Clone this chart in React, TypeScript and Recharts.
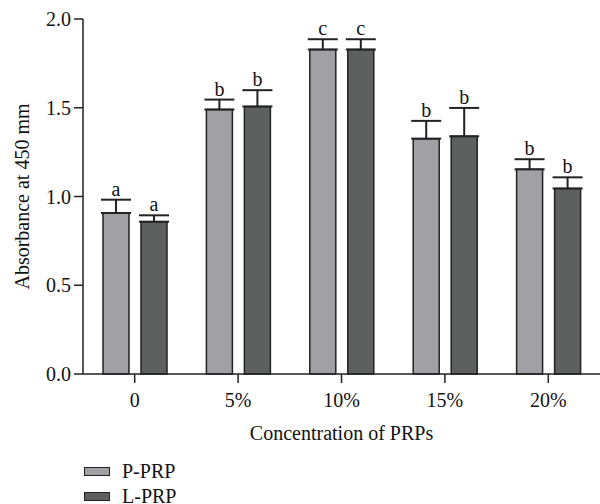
import React from "react";
import { BarChart, Bar, XAxis, YAxis, ErrorBar, LabelList, Legend } from "recharts";

const categories = ["0", "5%", "10%", "15%", "20%"];
const pPrp = [0.907, 1.49, 1.828, 1.326, 1.153];
const lPrp = [0.858, 1.507, 1.828, 1.339, 1.045];
const pErr = [0.075, 0.056, 0.058, 0.1, 0.057];
const lErr = [0.036, 0.092, 0.058, 0.16, 0.063];
const pLetters = ["a", "b", "c", "b", "b"];
const lLetters = ["a", "b", "c", "b", "b"];
const yTicks = [0, 0.5, 1.0, 1.5, 2.0];

const data = categories.map((c, i) => ({
  cat: c,
  p: pPrp[i],
  l: lPrp[i],
  pe: [0, pErr[i]],
  le: [0, lErr[i]],
}));

const FONT = "'Liberation Serif', 'DejaVu Serif', serif";
const LIGHT = "#a1a1a5";
const DARK = "#5e605f";
const EDGE = "#222222";
const FS = 20;

const makeLetter = (errs: number[], letters: string[]) => (props: any) => {
  const { x, y, width, height, value, index } = props;
  const pxPerUnit = height / value;
  const top = y - errs[index] * pxPerUnit;
  return (
    <text
      x={x + width / 2}
      y={top - 4}
      textAnchor="middle"
      fontFamily={FONT}
      fontSize={FS}
      fill="#111"
    >
      {letters[index]}
    </text>
  );
};

const legendItems = [
  { name: "P-PRP", color: LIGHT },
  { name: "L-PRP", color: DARK },
];

const renderLegend = () => (
  <div style={{ fontFamily: FONT, fontSize: FS, color: "#111" }}>
    {legendItems.map((it) => (
      <div key={it.name} style={{ display: "flex", alignItems: "center", height: 25 }}>
        <div
          style={{
            width: 24,
            height: 7,
            background: it.color,
            border: `1.5px solid ${EDGE}`,
            marginRight: 12,
          }}
        />
        <span>{it.name}</span>
      </div>
    ))}
  </div>
);

const YLabel = () => (
  <text
    x={22}
    y={196.5}
    transform="rotate(-90 22 196.5)"
    textAnchor="middle"
    dominantBaseline="central"
    fontFamily={FONT}
    fontSize={FS}
    fill="#111"
  >
    Absorbance at 450 mm
  </text>
);

export default function App() {
  return (
    <div style={{ position: "absolute", left: 0, top: 0, width: 600, height: 504 }}>
      <BarChart
        width={600}
        height={504}
        data={data}
        margin={{ top: 19, right: 0, left: 0, bottom: 70 }}
        barSize={26}
        barGap={12}
      >
        <XAxis
          dataKey="cat"
          tickSize={9}
          tickMargin={10}
          tickLine={{ stroke: EDGE, strokeWidth: 1.5 }}
          axisLine={{ stroke: EDGE, strokeWidth: 1.5 }}
          tick={{ fontFamily: FONT, fontSize: FS, fill: "#111" }}
          height={60}
          label={{
            value: "Concentration of PRPs",
            position: "insideBottom",
            offset: 0,
            dy: 6,
            fontFamily: FONT,
            fontSize: FS,
            fill: "#111",
          }}
        />
        <YAxis
          domain={[0, 2]}
          ticks={yTicks}
          tickFormatter={(v: number) => v.toFixed(1)}
          width={83}
          tickSize={9}
          tickMargin={3}
          tickLine={{ stroke: EDGE, strokeWidth: 1.5 }}
          axisLine={{ stroke: EDGE, strokeWidth: 1.5 }}
          tick={{ fontFamily: FONT, fontSize: FS, fill: "#111" }}
          label={<YLabel />}
        />
        <Legend
          verticalAlign="middle"
          align="center"
          layout="vertical"
          content={renderLegend}
          wrapperStyle={{ position: "absolute", left: 84, top: 459, width: 200 }}
        />
        <Bar dataKey="p" name="P-PRP" fill={LIGHT} stroke={EDGE} strokeWidth={1.5} isAnimationActive={false}>
          <ErrorBar dataKey="pe" direction="y" width={15} stroke={EDGE} strokeWidth={2} />
          <LabelList dataKey="p" content={makeLetter(pErr, pLetters)} />
        </Bar>
        <Bar dataKey="l" name="L-PRP" fill={DARK} stroke={EDGE} strokeWidth={1.5} isAnimationActive={false}>
          <ErrorBar dataKey="le" direction="y" width={15} stroke={EDGE} strokeWidth={2} />
          <LabelList dataKey="l" content={makeLetter(lErr, lLetters)} />
        </Bar>
      </BarChart>
    </div>
  );
}
